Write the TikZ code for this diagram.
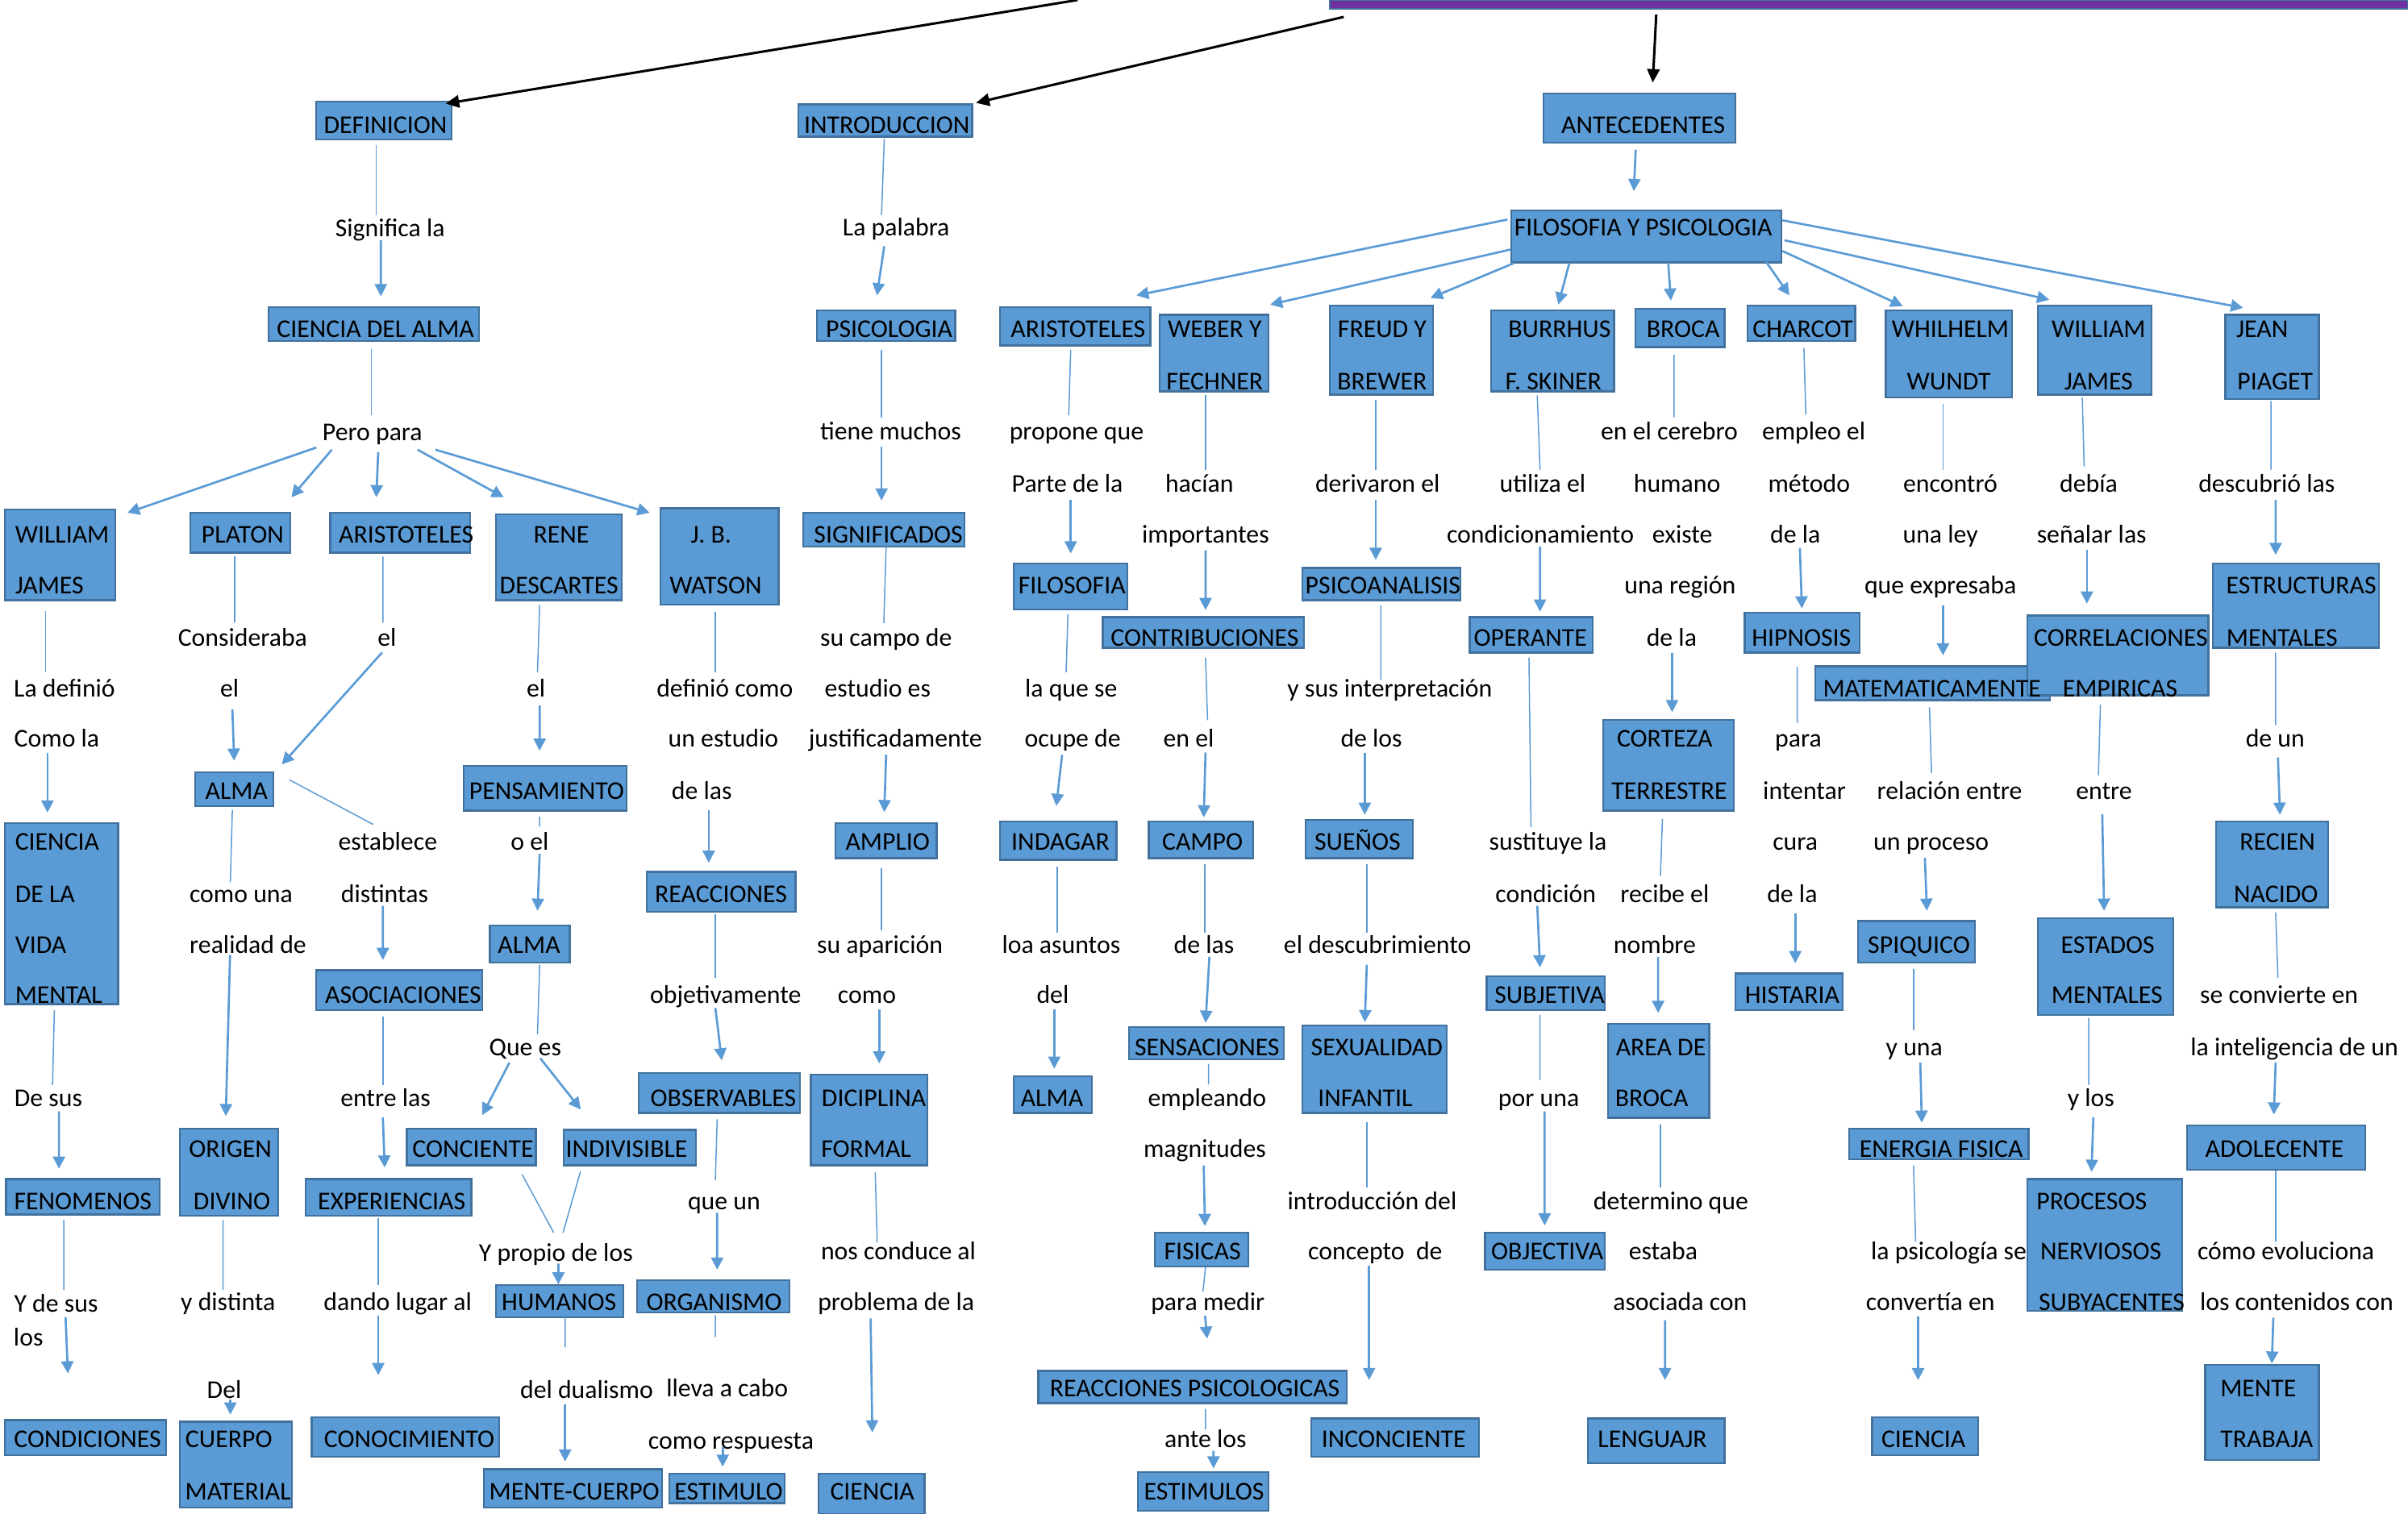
\documentclass[tikz,border=0pt]{standalone}
\usepackage{fontspec}
\setmainfont{Carlito}
\usetikzlibrary{arrows.meta,calc,fit}
\definecolor{boxfill}{HTML}{5B9BD5}
\definecolor{boxedge}{HTML}{41719C}
\definecolor{lnblue}{HTML}{5B9BD5}
\definecolor{barpurple}{HTML}{7030A0}
\newcommand\conn[5]{\draw[#1] ($(#2)+(#3)$) -- ($(#4)+(#5)$);}
\begin{document}
\begin{tikzpicture}[x=0.02cm,y=-0.02cm,font=\fontsize{9.5}{11}\selectfont,
  box/.style={draw=boxedge,fill=boxfill,line width=0.7pt,inner sep=0pt},
  bar/.style={draw=boxedge,fill=barpurple,line width=0.6pt,inner sep=0pt},
  tx/.style={inner sep=0pt,text height=6.5pt,text depth=0pt},
  thinln/.style={draw=lnblue,line width=0.45pt},
  arr/.style={draw=lnblue,line width=0.8pt,-{Triangle[length=4.5pt,width=4.5pt]}},
  blk/.style={draw=black,line width=0.9pt,-{Triangle[length=5pt,width=4.6pt]}}]
\useasboundingbox (0,0) rectangle (1568,986);
% title bar
\node[bar,fit={(866,0) (1568,6)}] (b-title) {};
% boxes
\node[box,fit={(206,66) (294,91)}] (b-def) {};
\node[box,fit={(520,68) (633,89)}] (b-intro) {};
\node[box,fit={(1005,61) (1130,93)}] (b-ant) {};
\node[box,fit={(175,200) (312,222)}] (b-cda) {};
\node[box,fit={(532,202) (622,222)}] (b-psic) {};
\node[box,fit={(984,137) (1160,171)}] (b-fyp) {};
\node[box,fit={(3,332) (75,391)}] (b-wj) {};
\node[box,fit={(124,334) (189,360)}] (b-plat) {};
\node[box,fit={(215,334) (306,360)}] (b-ari1) {};
\node[box,fit={(323,335) (405,391)}] (b-rene) {};
\node[box,fit={(430,331) (507,394)}] (b-jbw) {};
\node[box,fit={(523,334) (628,356)}] (b-sig) {};
\node[box,fit={(651,200) (749,225)}] (b-ari2) {};
\node[box,fit={(755,205) (826,255)}] (b-web) {};
\node[box,fit={(866,199) (933,257)}] (b-fre) {};
\node[box,fit={(971,202) (1051,255)}] (b-bur) {};
\node[box,fit={(1065,201) (1123,226)}] (b-bro) {};
\node[box,fit={(1138,199) (1208,222)}] (b-cha) {};
\node[box,fit={(1228,202) (1310,259)}] (b-whi) {};
\node[box,fit={(1327,199) (1401,257)}] (b-wj2) {};
\node[box,fit={(1449,205) (1510,260)}] (b-jp) {};
\node[box,fit={(3,536) (77,654)}] (b-cvm) {};
\node[box,fit={(127,503) (178,525)}] (b-alma1) {};
\node[box,fit={(302,499) (408,528)}] (b-pens) {};
\node[box,fit={(319,603) (371,627)}] (b-alma2) {};
\node[box,fit={(206,632) (314,658)}] (b-asoc) {};
\node[box,fit={(421,568) (518,594)}] (b-reac) {};
\node[box,fit={(544,536) (610,559)}] (b-amp) {};
\node[box,fit={(660,367) (734,397)}] (b-filo) {};
\node[box,fit={(651,535) (727,560)}] (b-indag) {};
\node[box,fit={(718,402) (849,422)}] (b-contr) {};
\node[box,fit={(748,535) (816,559)}] (b-campo) {};
\node[box,fit={(735,669) (836,690)}] (b-sens) {};
\node[box,fit={(752,803) (813,825)}] (b-fis) {};
\node[box,fit={(676,893) (877,914)}] (b-rps) {};
\node[box,fit={(741,959) (826,984)}] (b-estims) {};
\node[box,fit={(848,370) (951,391)}] (b-psa) {};
\node[box,fit={(850,534) (920,559)}] (b-suen) {};
\node[box,fit={(848,668) (942,725)}] (b-sex) {};
\node[box,fit={(854,924) (963,949)}] (b-incon) {};
\node[box,fit={(957,402) (1037,425)}] (b-oper) {};
\node[box,fit={(968,636) (1045,658)}] (b-subj) {};
\node[box,fit={(967,803) (1045,827)}] (b-obj) {};
\node[box,fit={(1044,469) (1129,528)}] (b-cort) {};
\node[box,fit={(1047,667) (1113,728)}] (b-area) {};
\node[box,fit={(1034,924) (1123,953)}] (b-leng) {};
\node[box,fit={(1136,399) (1211,425)}] (b-hip) {};
\node[box,fit={(1130,634) (1200,658)}] (b-hist) {};
\node[box,fit={(1182,434) (1335,456)}] (b-mat) {};
\node[box,fit={(1320,401) (1438,453)}] (b-corr) {};
\node[box,fit={(1441,367) (1549,422)}] (b-estr) {};
\node[box,fit={(1210,600) (1286,627)}] (b-spiq) {};
\node[box,fit={(1204,735) (1321,755)}] (b-energ) {};
\node[box,fit={(1219,923) (1288,948)}] (b-cien3) {};
\node[box,fit={(1327,598) (1415,661)}] (b-estad) {};
\node[box,fit={(1320,768) (1421,854)}] (b-proc) {};
\node[box,fit={(1443,535) (1516,591)}] (b-recien) {};
\node[box,fit={(1424,733) (1540,762)}] (b-adol) {};
\node[box,fit={(1436,889) (1510,951)}] (b-mente) {};
\node[box,fit={(4,768) (104,791)}] (b-fen) {};
\node[box,fit={(3,925) (108,948)}] (b-cond) {};
\node[box,fit={(117,735) (181,792)}] (b-orig) {};
\node[box,fit={(117,926) (190,982)}] (b-cuer) {};
\node[box,fit={(199,768) (307,792)}] (b-exp) {};
\node[box,fit={(203,923) (325,949)}] (b-conoc) {};
\node[box,fit={(265,735) (349,759)}] (b-conc) {};
\node[box,fit={(367,736) (453,759)}] (b-indiv) {};
\node[box,fit={(323,837) (406,858)}] (b-hum) {};
\node[box,fit={(315,957) (431,982)}] (b-mc) {};
\node[box,fit={(416,699) (521,725)}] (b-obs) {};
\node[box,fit={(415,834) (514,855)}] (b-org) {};
\node[box,fit={(436,960) (511,979)}] (b-estim) {};
\node[box,fit={(528,700) (604,759)}] (b-dic) {};
\node[box,fit={(533,960) (602,986)}] (b-cien1) {};
\node[box,fit={(660,701) (711,725)}] (b-alma3) {};
% box texts
\node[tx] (x-def) at (251,81) {DEFINICION};
\node[tx] (x-intro) at (577.5,81) {INTRODUCCION};
\node[tx] (x-ant) at (1070,81) {ANTECEDENTES};
\node[tx] (x-cda) at (244.5,214) {CIENCIA DEL ALMA};
\node[tx] (x-psic) at (579,214) {PSICOLOGIA};
\node[tx] (x-fyp) at (1070,148) {FILOSOFIA Y PSICOLOGIA};
\node[tx,anchor=west] (x-wj1) at (9.5,348) {WILLIAM};
\node[tx,anchor=west] (x-wj2) at (9.5,381) {JAMES};
\node[tx] (x-plat) at (158,348) {PLATON};
\node[tx] (x-ari1) at (264.5,348) {ARISTOTELES};
\node[tx] (x-rene1) at (365.5,348) {RENE};
\node[tx] (x-rene2) at (364,381) {DESCARTES};
\node[tx] (x-jbw1) at (463,348) {J. B.};
\node[tx] (x-jbw2) at (466,381) {WATSON};
\node[tx] (x-sig) at (578.5,348) {SIGNIFICADOS};
\node[tx] (x-ari2) at (702,214) {ARISTOTELES};
\node[tx] (x-web1) at (791,214) {WEBER Y};
\node[tx] (x-web2) at (791,248) {FECHNER};
\node[tx] (x-fre1) at (900,214) {FREUD Y};
\node[tx] (x-fre2) at (900,248) {BREWER};
\node[tx] (x-bur1) at (1015.5,214) {BURRHUS};
\node[tx] (x-bur2) at (1011.5,248) {F. SKINER};
\node[tx] (x-bro) at (1096,214) {BROCA};
\node[tx] (x-cha) at (1174,214) {CHARCOT};
\node[tx] (x-whi1) at (1270,214) {WHILHELM};
\node[tx] (x-whi2) at (1269,248) {WUNDT};
\node[tx] (x-wja1) at (1366.5,214) {WILLIAM};
\node[tx] (x-wja2) at (1366.5,248) {JAMES};
\node[tx] (x-jp1) at (1473,214) {JEAN};
\node[tx] (x-jp2) at (1481.5,248) {PIAGET};
\node[tx,anchor=west] (x-cvm1) at (9.5,548) {CIENCIA};
\node[tx,anchor=west] (x-cvm2) at (9.5,582) {DE LA};
\node[tx,anchor=west] (x-cvm3) at (9.5,615) {VIDA};
\node[tx,anchor=west] (x-cvm4) at (9.5,648) {MENTAL};
\node[tx] (x-alma1) at (154,515) {ALMA};
\node[tx] (x-pens) at (356,515) {PENSAMIENTO};
\node[tx] (x-alma2) at (344.5,615) {ALMA};
\node[tx] (x-asoc) at (262.5,648) {ASOCIACIONES};
\node[tx] (x-reac) at (469.5,582) {REACCIONES};
\node[tx] (x-amp) at (578,548) {AMPLIO};
\node[tx] (x-filo) at (698,381) {FILOSOFIA};
\node[tx] (x-indag) at (690.5,548) {INDAGAR};
\node[tx] (x-contr) at (784.5,415) {CONTRIBUCIONES};
\node[tx] (x-campo) at (783,548) {CAMPO};
\node[tx] (x-sens) at (786,682) {SENSACIONES};
\node[tx] (x-fis) at (783,815) {FISICAS};
\node[tx] (x-rps) at (778,904) {REACCIONES PSICOLOGICAS};
\node[tx] (x-estims) at (784,971) {ESTIMULOS};
\node[tx] (x-psa) at (900.5,381) {PSICOANALISIS};
\node[tx] (x-suen) at (884,548) {SUEÑOS};
\node[tx] (x-sex1) at (896.5,682) {SEXUALIDAD};
\node[tx] (x-sex2) at (889,715) {INFANTIL};
\node[tx] (x-incon) at (907.5,937) {INCONCIENTE};
\node[tx] (x-oper) at (996.5,415) {OPERANTE};
\node[tx] (x-subj) at (1009,648) {SUBJETIVA};
\node[tx] (x-obj) at (1007.5,815) {OBJECTIVA};
\node[tx] (x-cort1) at (1084,481) {CORTEZA};
\node[tx] (x-cort2) at (1087,515) {TERRESTRE};
\node[tx] (x-area1) at (1081.5,682) {AREA DE};
\node[tx] (x-area2) at (1075.5,715) {BROCA};
\node[tx] (x-leng) at (1076,937) {LENGUAJR};
\node[tx] (x-hip) at (1173,415) {HIPNOSIS};
\node[tx] (x-hist) at (1167,648) {HISTARIA};
\node[tx] (x-mat) at (1258,448) {MATEMATICAMENTE};
\node[tx] (x-corr1) at (1381,415) {CORRELACIONES};
\node[tx] (x-corr2) at (1380.5,448) {EMPIRICAS};
\node[tx] (x-estr1) at (1498.5,381) {ESTRUCTURAS};
\node[tx] (x-estr2) at (1486,415) {MENTALES};
\node[tx] (x-spiq) at (1249.5,615) {SPIQUICO};
\node[tx] (x-energ) at (1264,748) {ENERGIA FISICA};
\node[tx] (x-cien3) at (1252.5,937) {CIENCIA};
\node[tx] (x-estad1) at (1372.5,615) {ESTADOS};
\node[tx] (x-estad2) at (1372,648) {MENTALES};
\node[tx] (x-proc1) at (1362,782) {PROCESOS};
\node[tx] (x-proc2) at (1368,815) {NERVIOSOS};
\node[tx] (x-proc3) at (1375,848) {SUBYACENTES};
\node[tx] (x-recien1) at (1483,548) {RECIEN};
\node[tx] (x-recien2) at (1482,582) {NACIDO};
\node[tx] (x-adol) at (1481,748) {ADOLECENTE};
\node[tx] (x-mente1) at (1470.5,904) {MENTE};
\node[tx] (x-mente2) at (1476,937) {TRABAJA};
\node[tx] (x-fen) at (54,782) {FENOMENOS};
\node[tx] (x-cond) at (57,937) {CONDICIONES};
\node[tx] (x-orig1) at (150,748) {ORIGEN};
\node[tx] (x-orig2) at (151,782) {DIVINO};
\node[tx] (x-cuer1) at (149,937) {CUERPO};
\node[tx] (x-cuer2) at (155,971) {MATERIAL};
\node[tx] (x-exp) at (255,782) {EXPERIENCIAS};
\node[tx] (x-conoc) at (266.5,937) {CONOCIMIENTO};
\node[tx] (x-conc) at (308,748) {CONCIENTE};
\node[tx] (x-indiv) at (408,748) {INDIVISIBLE};
\node[tx] (x-hum) at (364,848) {HUMANOS};
\node[tx] (x-mc) at (374,971) {MENTE-CUERPO};
\node[tx] (x-obs) at (471,715) {OBSERVABLES};
\node[tx] (x-org) at (465,848) {ORGANISMO};
\node[tx] (x-estim) at (474.5,971) {ESTIMULO};
\node[tx] (x-dic1) at (569,715) {DICIPLINA};
\node[tx] (x-dic2) at (564,748) {FORMAL};
\node[tx] (x-cien1) at (568,971) {CIENCIA};
\node[tx] (x-alma3) at (685,715) {ALMA};
% labels
\node[tx] (t-sig) at (254,148.5) {Significa la};
\node[tx] (t-pero) at (242.5,281.5) {Pero para};
\node[tx] (t-lapal) at (583.5,148) {La palabra};
\node[tx] (t-tiene) at (580,281) {tiene muchos};
\node[tx] (t-propone) at (701,281) {propone que};
\node[tx] (t-parte) at (695,315) {Parte de la};
\node[tx] (t-hacian) at (781,315) {hacían};
\node[tx] (t-import) at (785,348) {importantes};
\node[tx] (t-deriv) at (897,315) {derivaron el};
\node[tx] (t-utiliza) at (1004.5,315) {utiliza el};
\node[tx] (t-condic) at (1003,348) {condicionamiento};
\node[tx] (t-cerebro) at (1087,281) {en el cerebro};
\node[tx] (t-humano) at (1092,315) {humano};
\node[tx] (t-existe) at (1095.5,348) {existe};
\node[tx] (t-region) at (1094,381) {una región};
\node[tx] (t-dela1) at (1088.5,415) {de la};
\node[tx] (t-empleo) at (1181,281) {empleo el};
\node[tx] (t-metodo) at (1178,315) {método};
\node[tx] (t-dela2) at (1169,348) {de la};
\node[tx] (t-encontro) at (1270,315) {encontró};
\node[tx] (t-unaley) at (1263.5,348) {una ley};
\node[tx] (t-queexp) at (1263.5,381) {que expresaba};
\node[tx] (t-debia) at (1360,315) {debía};
\node[tx] (t-senalar) at (1362,348) {señalar las};
\node[tx] (t-descub) at (1476,315) {descubrió las};
\node[tx] (t-ladef) at (42,448) {La definió};
\node[tx] (t-comola) at (37,481) {Como la};
\node[tx] (t-consid) at (158,415) {Consideraba};
\node[tx] (t-el1) at (149.5,448) {el};
\node[tx] (t-el2) at (252,415) {el};
\node[tx] (t-el3) at (349,448) {el};
\node[tx] (t-defcomo) at (472,448) {definió como};
\node[tx] (t-unest) at (471,481) {un estudio};
\node[tx] (t-delas1) at (457,515) {de las};
\node[tx] (t-sucampo) at (577,415) {su campo de};
\node[tx] (t-estudio) at (571.5,448) {estudio es};
\node[tx] (t-justif) at (583,481) {justificadamente};
\node[tx] (t-laquese) at (697.5,448) {la que se};
\node[tx] (t-ocupe) at (698.5,481) {ocupe de};
\node[tx] (t-enel) at (774,481) {en el};
\node[tx] (t-ysus) at (905,448) {y sus interpretación};
\node[tx] (t-delos1) at (893,481) {de los};
\node[tx] (t-sustit) at (1008,548) {sustituye la};
\node[tx] (t-condicion) at (1006.5,582) {condición};
\node[tx] (t-recibe) at (1084,582) {recibe el};
\node[tx] (t-nombre) at (1077.5,615) {nombre};
\node[tx] (t-para) at (1171,481) {para};
\node[tx] (t-intentar) at (1175,515) {intentar};
\node[tx] (t-cura) at (1169,548) {cura};
\node[tx] (t-dela3) at (1167,582) {de la};
\node[tx] (t-relacion) at (1269.5,515) {relación entre};
\node[tx] (t-unproc) at (1257.5,548) {un proceso};
\node[tx] (t-entre) at (1370,515) {entre};
\node[tx] (t-deun) at (1481.5,481) {de un};
\node[tx] (t-seconv) at (1484,648) {se convierte en};
\node[tx] (t-lainteli) at (1494,682) {la inteligencia de un};
\node[tx] (t-comouna) at (157,582) {como una};
\node[tx] (t-realid) at (161.5,615) {realidad de};
\node[tx] (t-establ) at (252.5,548) {establece};
\node[tx] (t-distint) at (250.5,582) {distintas};
\node[tx] (t-oel) at (345,548) {o el};
\node[tx] (t-suapar) at (573,615) {su aparición};
\node[tx] (t-como) at (564.5,648) {como};
\node[tx] (t-objet) at (472.5,648) {objetivamente};
\node[tx] (t-loa) at (691,615) {loa asuntos};
\node[tx] (t-del1) at (685.5,648) {del};
\node[tx] (t-delas2) at (784,615) {de las};
\node[tx] (t-eldesc) at (897,615) {el descubrimiento};
\node[tx] (t-quees) at (342,682) {Que es};
\node[tx] (t-entrelas) at (251,715) {entre las};
\node[tx] (t-desus) at (31.5,715) {De sus};
\node[tx] (t-yuna) at (1246.5,682) {y una};
\node[tx] (t-ylos) at (1361.5,715) {y los};
\node[tx] (t-empleando) at (786,715) {empleando};
\node[tx] (t-magnit) at (784.5,748) {magnitudes};
\node[tx] (t-introd) at (893.5,782) {introducción del};
\node[tx] (t-concepto) at (895.5,815) {concepto~ de};
\node[tx] (t-poruna) at (1002,715) {por una};
\node[tx] (t-determ) at (1088,782) {determino que};
\node[tx] (t-estaba) at (1083,815) {estaba};
\node[tx] (t-asociada) at (1094,848) {asociada con};
\node[tx] (t-queun) at (471.5,782) {que un};
\node[tx] (t-ypropio) at (362,816) {Y propio de los};
\node[tx] (t-noscond) at (585,815) {nos conduce al};
\node[tx] (t-problema) at (583.5,848) {problema de la};
\node[tx] (t-lapsico) at (1269,815) {la psicología se};
\node[tx] (t-convertia) at (1257,848) {convertía en};
\node[tx] (t-comoevol) at (1488.5,815) {cómo evoluciona};
\node[tx] (t-contenidos) at (1495.5,848) {los contenidos con};
\node[tx] (t-ydesus) at (36.5,849) {Y de sus};
\node[tx] (t-los) at (18.5,871) {los};
\node[tx] (t-ydist) at (148.5,848) {y distinta};
\node[tx] (t-dando) at (259,848) {dando lugar al};
\node[tx] (t-paramedir) at (786.5,848) {para medir};
\node[tx] (t-del2) at (146,905) {Del};
\node[tx] (t-deldual) at (382,905) {del dualismo};
\node[tx] (t-lleva) at (473.5,904) {lleva a cabo};
\node[tx] (t-comoresp) at (476,938) {como respuesta};
\node[tx] (t-antelos) at (785,937) {ante los};
% black arrows from title
\coordinate (tA) at (701.7,0);
\draw[blk] (tA) -- ($(b-def)+(40.2,-11)$);
\draw[blk] ($(b-title.south west)+(9.5,4.5)$) -- ($(b-intro)+(59,-11.5)$);
\draw[blk] ($(b-title.south west)+(213,3)$) -- ($(b-ant)+(8.7,-23.2)$);
% fan-outs
\conn{arr}{t-pero}{-36.5,10}{b-wj}{44,-27.5}
\conn{arr}{t-pero}{-26.4,11.4}{b-plat}{33.2,-23.1}
\conn{arr}{t-pero}{3.8,13}{b-ari1}{-15.5,-23.1}
\conn{arr}{t-pero}{29.4,11.4}{b-rene}{-36,-39.1}
\conn{arr}{t-pero}{41,11.4}{b-jbw}{-45.5,-28.5}
\conn{arr}{b-ant}{-2.4,20.5}{b-fyp}{-8.1,-29.5}
\conn{arr}{b-fyp}{-90.4,-11}{b-ari2}{40,-20.1}
\conn{arr}{b-fyp}{-88.3,8.5}{b-web}{36.6,-31.6}
\conn{arr}{b-fyp}{-86,17.3}{b-fre}{32,-33.9}
\conn{arr}{b-fyp}{-50.1,17.3}{b-bur}{3.7,-30.1}
\conn{arr}{b-fyp}{14.3,17.3}{b-bro}{-6,-17.7}
\conn{arr}{b-fyp}{78,16.5}{b-cha}{-7.8,-18.1}
\conn{arr}{b-fyp}{88.6,9.5}{b-whi}{-30,-31.1}
\conn{arr}{b-fyp}{90,2.5}{b-wj2}{-29.6,-32.8}
\conn{arr}{b-fyp}{88.6,-10.5}{b-jp}{-18.9,-32}
% DEFINICION branch
\conn{thinln}{b-def}{-5,15.8}{t-sig}{-9,-8.2}
\conn{arr}{t-sig}{-6,8}{b-cda}{4.5,-18}
\conn{thinln}{b-cda}{-1.7,16.4}{t-pero}{-0.7,-11}
\conn{thinln}{b-wj}{-9.3,36.5}{t-ladef}{-12.3,-10.1}
\conn{arr}{t-comola}{-6.1,9.2}{b-cvm}{-9.1,-65.7}
\conn{thinln}{b-cvm}{-4.6,63}{t-desus}{2.7,-8.2}
\conn{arr}{t-desus}{6.9,8.9}{b-fen}{-15.6,-18.3}
\conn{thinln}{b-fen}{-12.5,15.2}{t-ydesus}{5,-8.8}
\conn{arr}{t-ydesus}{6.2,9}{b-cond}{-11.3,-41.9}
\conn{thinln}{b-plat}{-3.7,15.5}{t-consid}{-5.2,-9.4}
\conn{arr}{t-el1}{1.8,14}{b-alma1}{0,-18.5}
\conn{thinln}{b-alma1}{-1.2,13.6}{t-comouna}{-7,-7.4}
\conn{arr}{t-realid}{-11.7,7.1}{b-orig}{-2,-36.5}
\conn{thinln}{b-orig}{-3.7,31.2}{t-ydist}{-3.2,-7.8}
\conn{arr}{t-del2}{4,6.8}{b-cuer}{-3.5,-32.6}
\conn{thinln}{b-ari1}{-11.2,15.5}{t-el2}{-2.7,-9.4}
\conn{arr}{t-el2}{-3.2,10}{b-alma1}{31,-16}
\conn{thinln}{b-alma1}{36,-6}{t-establ}{-9.5,-11}
\conn{arr}{t-distint}{-1.2,8}{b-asoc}{-10.7,-19.7}
\conn{thinln}{b-asoc}{-10.7,17.3}{t-entrelas}{-1.7,-8.2}
\conn{arr}{t-entrelas}{-1.7,12.7}{b-exp}{-2.5,-19.5}
\conn{thinln}{b-exp}{-6.7,13.2}{t-dando}{-12.7,-11}
\conn{arr}{t-dando}{-12.7,9}{b-conoc}{-17.7,-40.3}
\conn{thinln}{b-rene}{-12.6,31}{t-el3}{1,-10.1}
\conn{arr}{t-el3}{2.4,11.6}{b-pens}{-3.6,-24.5}
\conn{thinln}{b-pens}{-3.6,18.5}{t-oel}{6.4,-9.6}
\conn{arr}{t-oel}{6.4,8.2}{b-alma2}{5,-21.8}
\conn{thinln}{b-alma2}{6.4,13.4}{t-quees}{8,-8.3}
\conn{arr}{t-quees}{-10.3,10.2}{b-conc}{7,-20.6}
\conn{arr}{t-quees}{9.8,7.3}{b-indiv}{-31.8,-24.8}
\conn{thinln}{b-conc}{33,18}{t-ypropio}{-1.4,-13}
\conn{thinln}{b-indiv}{-32,15.5}{t-ypropio}{4.6,-13}
\conn{arr}{t-ypropio}{1.6,7}{b-hum}{-0.9,-10.9}
\conn{thinln}{b-hum}{3.5,10.5}{t-deldual}{-14,-27.4}
\conn{arr}{t-deldual}{-14,10}{b-mc}{-5,-17.5}
\conn{thinln}{b-jbw}{-2.7,35.9}{t-defcomo}{-6.2,-10.1}
\conn{arr}{t-delas1}{4.5,12.6}{b-reac}{-8,-19}
\conn{thinln}{b-reac}{-3.7,14.7}{t-objet}{-6.7,-11.1}
\conn{arr}{t-objet}{-6.7,8.5}{b-obs}{1.5,-21.3}
\conn{thinln}{b-obs}{-1.5,17}{t-queun}{-5.7,-13.3}
\conn{arr}{t-queun}{-4.5,8}{b-org}{2.5,-17.5}
\conn{thinln}{b-org}{1.3,12.1}{t-lleva}{-7.7,-33}
\conn{arr}{t-comoresp}{-5.4,4.8}{b-estim}{-2.9,-14.1}
% INTRODUCCION branch
\conn{thinln}{b-intro}{-0.7,11.8}{t-lapal}{-9.5,-8}
\conn{arr}{t-lapal}{-7.7,12.4}{b-psic}{-6,-19.6}
\conn{thinln}{b-psic}{-3,15.9}{t-tiene}{-6,-8.8}
\conn{arr}{t-tiene}{-6,10}{b-sig}{-1.5,-19}
\conn{thinln}{b-sig}{1.5,11}{t-sucampo}{-1.5,-9.2}
\conn{arr}{t-justif}{-6,10.6}{b-amp}{-1.2,-18.5}
\conn{thinln}{b-amp}{-3,18}{t-suapar}{1,-9}
\conn{arr}{t-como}{8,9.6}{b-dic}{6.5,-36.8}
\conn{thinln}{b-dic}{3.9,33.9}{t-noscond}{-13.8,-5.8}
\conn{arr}{t-problema}{-16.6,10.7}{b-cien1}{0.5,-40}
% ANTECEDENTES branches
\conn{thinln}{b-ari2}{-2.8,15.4}{t-propone}{-5.1,-10.5}
\conn{arr}{t-parte}{2.2,10.6}{b-filo}{0.2,-21.5}
\conn{thinln}{b-filo}{-1.6,17.9}{t-laquese}{-3.3,-10.1}
\conn{arr}{t-ocupe}{-6.9,10.7}{b-indag}{-1.2,-22.5}
\conn{thinln}{b-indag}{-0.7,17.2}{t-loa}{-2.7,-7.6}
\conn{arr}{t-del1}{1,9.7}{b-alma3}{1,-16.9}
\conn{thinln}{b-web}{-5.5,27.5}{t-hacian}{4,-9}
\conn{arr}{t-import}{0,10.4}{b-contr}{1.5,-14.6}
\conn{thinln}{b-contr}{1.5,16.4}{t-enel}{12.3,-11.9}
\conn{arr}{t-enel}{11,9.2}{b-campo}{1.8,-14.6}
\conn{thinln}{b-campo}{2.6,16}{t-delas2}{0.6,-7.6}
\conn{arr}{t-delas2}{3.5,8.2}{b-sens}{-0.5,-13.3}
\conn{thinln}{b-sens}{1.5,13.4}{t-empleando}{1,-8.6}
\conn{arr}{t-magnit}{-0.7,11.1}{b-fis}{2.1,-15.4}
\conn{thinln}{b-fis}{2.5,11.3}{t-paramedir}{-3.2,-6.7}
\conn{arr}{t-paramedir}{-1.8,9}{b-rps}{9.5,-31.5}
\conn{thinln}{b-rps}{8.5,14.2}{t-antelos}{0,-6}
\conn{arr}{t-antelos}{5.2,8}{b-estims}{6.7,-15}
\conn{thinln}{b-fre}{-3.7,32.6}{t-deriv}{-1.2,-9}
\conn{arr}{t-deriv}{-1.2,10.6}{b-psa}{-3.7,-15.8}
\conn{thinln}{b-psa}{-0.3,13.7}{t-ysus}{-5.8,-5.2}
\conn{arr}{t-delos1}{-4.3,9.2}{b-suen}{3.7,-15.8}
\conn{thinln}{b-suen}{5,16.5}{t-eldesc}{-7,-7.6}
\conn{arr}{t-eldesc}{-7,13.4}{b-sex}{-6.3,-30.7}
\conn{thinln}{b-sex}{-5,34.2}{t-introd}{-3.5,-8.6}
\conn{arr}{t-concepto}{-4,9.6}{b-incon}{-17,-37.6}
\conn{thinln}{b-bur}{-10,29}{t-utiliza}{-1.7,-9}
\conn{arr}{t-condic}{-0.2,8}{b-oper}{5.8,-15.1}
\conn{thinln}{b-oper}{-1.4,14.9}{t-sustit}{-11.1,-9.2}
\conn{arr}{t-condicion}{-5.5,8}{b-subj}{-3.7,-16.9}
\conn{thinln}{b-subj}{-3.7,13.9}{t-poruna}{0.8,-11.4}
\conn{arr}{t-poruna}{3.8,8.9}{b-obj}{-0.2,-16.8}
\conn{thinln}{b-bro}{-3.9,17.6}{t-cerebro}{3.1,-9.2}
\conn{arr}{t-dela1}{0.3,10.2}{b-cort}{2.3,-34.6}
\conn{thinln}{b-cort}{-4,35}{t-recibe}{-2.8,-11.6}
\conn{arr}{t-nombre}{2.2,8.2}{b-area}{-0.3,-37.7}
\conn{thinln}{b-area}{1.2,34.9}{t-determ}{-6.8,-8.6}
\conn{arr}{t-asociada}{-9.8,12}{b-leng}{5.7,-39.6}
\conn{thinln}{b-cha}{1.6,16.3}{t-empleo}{-5.1,-10.9}
\conn{arr}{t-dela2}{3,8.9}{b-hip}{-0.2,-15.7}
\conn{thinln}{b-hip}{-3.2,22.3}{t-para}{-0.7,-10.2}
\conn{arr}{t-dela3}{2,12.7}{b-hist}{4,-18.6}
\conn{thinln}{b-whi}{-3.8,32.8}{t-encontro}{-4.8,-9}
\conn{arr}{t-queexp}{1.7,13.2}{b-mat}{6.7,-18.1}
\conn{thinln}{b-mat}{-2.1,15.7}{t-relacion}{-11.8,-11.5}
\conn{arr}{t-unproc}{-4.1,10.8}{b-spiq}{6.7,-20.3}
\conn{thinln}{b-spiq}{-2,17.7}{t-yuna}{-0.5,-11.1}
\conn{arr}{t-yuna}{3.9,10.2}{b-energ}{-11.1,-13.7}
\conn{thinln}{b-energ}{-16.5,14.1}{t-lapsico}{-21.6,-6.2}
\conn{arr}{t-convertia}{-8,9.3}{b-cien3}{-4.5,-36.5}
\conn{thinln}{b-wj2}{-8.1,31.1}{t-debia}{-2.9,-11.2}
\conn{arr}{t-senalar}{-3.1,10.3}{b-corr}{-20.1,-33.8}
\conn{thinln}{b-corr}{-11.3,32}{t-entre}{-3.6,-10}
\conn{arr}{t-entre}{-1.1,15.3}{b-estad}{-0.9,-36.3}
\conn{thinln}{b-estad}{-10.9,33.5}{t-ylos}{-1.4,-8.2}
\conn{arr}{t-ylos}{1.6,12.7}{b-proc}{-8.6,-47.7}
\conn{thinln}{b-jp}{-0.7,28.7}{t-descub}{2.8,-9}
\conn{arr}{t-descub}{5.8,10.6}{b-estr}{-13.2,-33}
\conn{thinln}{b-estr}{-13.2,30.7}{t-deun}{0.3,-8.7}
\conn{arr}{t-deun}{1.8,12.4}{b-recien}{5.1,-32.3}
\conn{thinln}{b-recien}{2.3,31.3}{t-seconv}{-0.7,-11.1}
\conn{arr}{t-lainteli}{-12.2,10.2}{b-adol}{-1.4,-21.5}
\conn{thinln}{b-adol}{-0.2,14.8}{t-comoevol}{-6.7,-6.2}
\conn{arr}{t-contenidos}{-15.2,10.3}{b-mente}{6.3,-31.8}
\end{tikzpicture}
\end{document}
